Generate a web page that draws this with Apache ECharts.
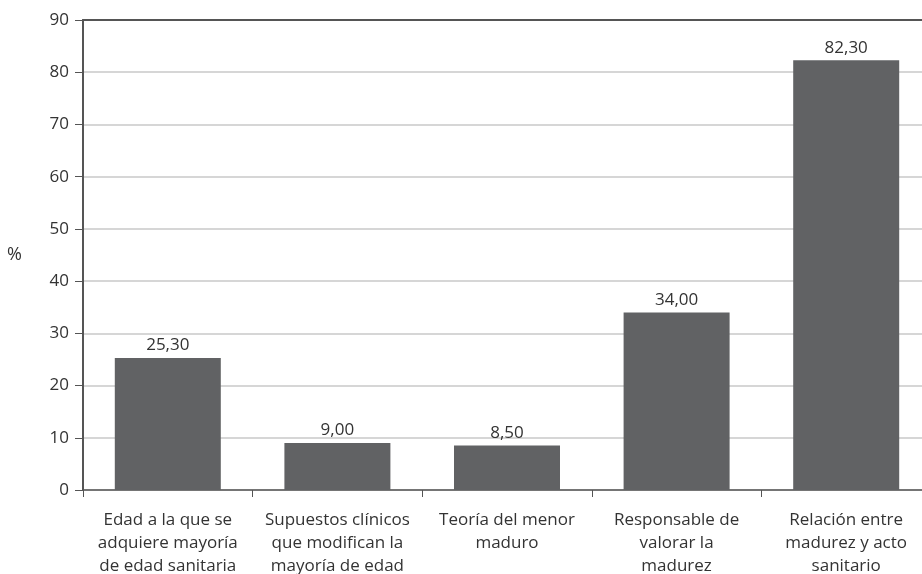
<!DOCTYPE html>
<html lang="es">
<head>
    <meta charset="UTF-8">
    <title>Madurez sanitaria</title>
    <style>
        * { margin: 0; padding: 0; box-sizing: border-box; }
        html, body { width: 922px; height: 574px; background: #fff; }
        #chart { width: 922px; height: 574px; }
    </style>
</head>
<body>
    <div id="chart"></div>
    <script src="https://cdn.jsdelivr.net/npm/echarts@6/dist/echarts.min.js"></script>
    <script>
        // categorias del eje x
        const categories = [
            'Edad a la que se\nadquiere mayoría\nde edad sanitaria',
            'Supuestos clínicos\nque modifican la\nmayoría de edad',
            'Teoría del menor\nmaduro',
            'Responsable de\nvalorar la\nmadurez',
            'Relación entre\nmadurez y acto\nsanitario'
        ];
        const values = [25.3, 9.0, 8.5, 34.0, 82.3];
        const yTicks = [0, 10, 20, 30, 40, 50, 60, 70, 80, 90];

        const fontFam = '"Open Sans", sans-serif';
        const chart = echarts.init(document.getElementById('chart'));

        chart.setOption({
            animation: false,
            grid: {
                left: 83, top: 20, width: 848, bottom: 84,
                outerBoundsMode: 'none', containLabel: false
            },
            xAxis: [{
                type: 'category',
                data: categories,
                axisLine: { lineStyle: { color: '#555', width: 1.5 } },
                axisTick: { show: true, length: 7, lineStyle: { color: '#555' } },
                axisLabel: {
                    color: '#333', fontSize: 17, fontFamily: fontFam,
                    lineHeight: 23, margin: 19, interval: 0
                }
            }, {
                type: 'category',
                position: 'top',
                data: categories,
                axisLine: { lineStyle: { color: '#555', width: 2 } },
                axisTick: { show: false },
                axisLabel: { show: false }
            }],
            yAxis: {
                type: 'value',
                min: yTicks[0],
                max: yTicks[yTicks.length - 1],
                interval: 10,
                name: '%',
                nameLocation: 'middle',
                nameRotate: 0,
                nameGap: 61,
                nameTextStyle: { color: '#333', fontSize: 18, fontFamily: fontFam },
                axisLine: { show: true, lineStyle: { color: '#555', width: 2 } },
                axisTick: { show: true, length: 8, lineStyle: { color: '#555' } },
                axisLabel: { color: '#333', fontSize: 17, fontFamily: fontFam, margin: 14 },
                splitLine: { lineStyle: { color: '#c8c8c8', width: 1.5 } }
            },
            series: [{
                type: 'bar',
                data: values,
                barWidth: '62.5%',
                itemStyle: { color: '#616264' },
                label: {
                    show: true,
                    position: 'top',
                    distance: 4,
                    color: '#333',
                    fontSize: 17,
                    fontFamily: fontFam,
                    formatter: p => p.value.toFixed(2).replace('.', ',')
                }
            }]
        });
    </script>
</body>
</html>
